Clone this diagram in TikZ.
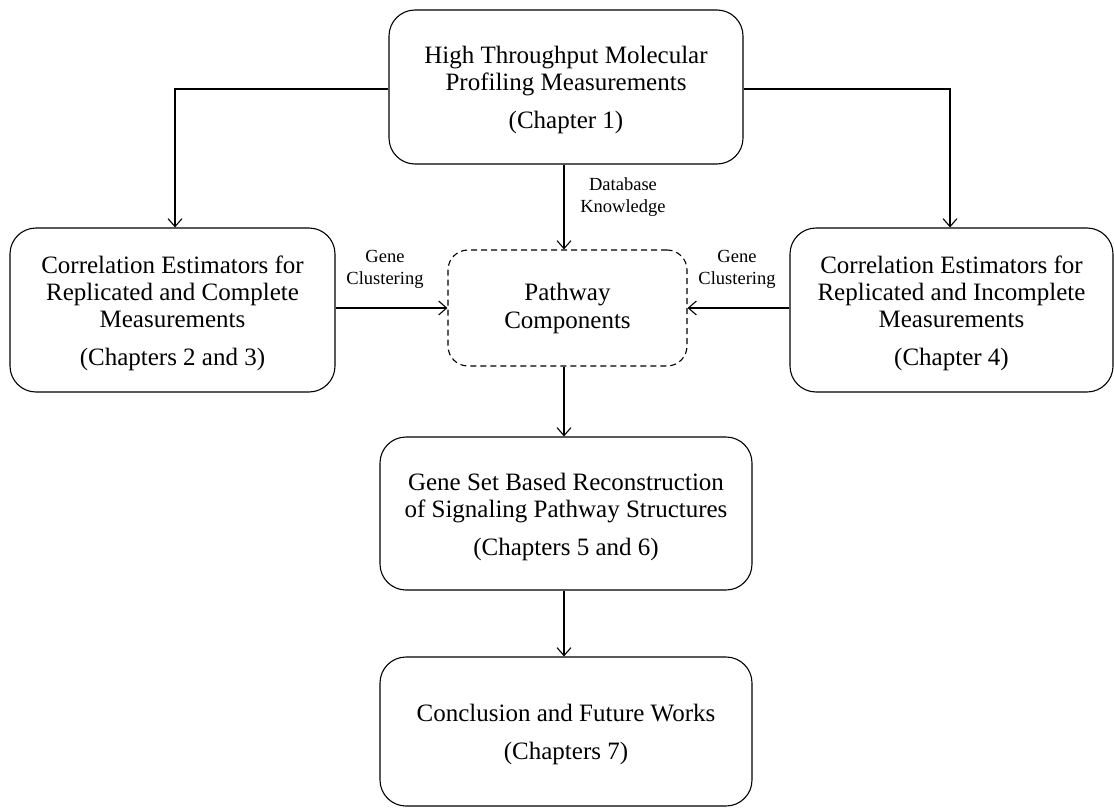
\documentclass[tikz,border=0pt]{standalone}
\usepackage{fontspec}
\setmainfont{Liberation Serif}
\usetikzlibrary{arrows.meta}

% a little extra room above the first line of a box
\newcommand{\boxtop}{\rule{0pt}{24pt}}

\tikzset{
  chapbox/.style={draw, line width=1.1pt, rounded corners=26pt, align=center, inner sep=0pt,
    font=\fontsize{25}{27}\selectfont},
  pathbox/.style={draw, line width=1.1pt, dash pattern=on 6pt off 4pt, rounded corners=20pt,
    align=center, inner sep=0pt, font=\fontsize{25}{28}\selectfont},
  flowlabel/.style={align=center, inner sep=0pt, font=\fontsize{18.5}{22}\selectfont},
  flow/.style={line width=1.1pt, -{Straight Barb[length=8pt,width=14pt]}}
}

\begin{document}
\begin{tikzpicture}[x=1pt, y=-1pt]
  \useasboundingbox (0,0) rectangle (1114,808);
  % boxes
  \node[chapbox, minimum width=354pt, minimum height=154pt] (profiling) at (566,87)
    {\boxtop High Throughput Molecular\\Profiling Measurements\\[11pt](Chapter 1)};
  \node[chapbox, minimum width=325pt, minimum height=164pt] (complete) at (172.5,310)
    {\boxtop Correlation Estimators for\\Replicated and Complete\\Measurements\\[11pt](Chapters 2 and 3)};
  \node[chapbox, minimum width=323pt, minimum height=164pt] (incomplete) at (951.5,310)
    {\boxtop Correlation Estimators for\\Replicated and Incomplete\\Measurements\\[11pt](Chapter 4)};
  \node[pathbox, minimum width=239pt, minimum height=116pt] (pathway) at (567.5,308)
    {Pathway\\Components};
  \node[chapbox, minimum width=372pt, minimum height=153pt] (geneset) at (566,513.5)
    {\boxtop Gene Set Based Reconstruction\\of Signaling Pathway Structures\\[11pt](Chapters 5 and 6)};
  \node[chapbox, minimum width=372pt, minimum height=149pt] (conclusion) at (566,731.5)
    {\boxtop Conclusion and Future Works\\[11pt](Chapters 7)};

  % labels
  \node[flowlabel] (dblabel) at (623,197) {Database\\Knowledge};
  \node[flowlabel] (leftlabel) at (385,269) {Gene\\Clustering};
  \node[flowlabel] (rightlabel) at (737,269) {Gene\\Clustering};

  % connectors
  \coordinate (leftbend) at (175,89);
  \coordinate (rightbend) at (950,89);
  \draw[flow] (profiling.west |- leftbend) -- (leftbend) -- (leftbend |- complete.north);
  \draw[flow] (profiling.east |- rightbend) -- (rightbend) -- (rightbend |- incomplete.north);
  \draw[flow] (profiling.south -| 564,0) -- (pathway.north -| 564,0);
  \draw[flow] (complete.east |- 0,308) -- (pathway.west |- 0,308);
  \draw[flow] (incomplete.west |- 0,308) -- (pathway.east |- 0,308);
  \draw[flow] (pathway.south -| 564,0) -- (geneset.north -| 564,0);
  \draw[flow] (geneset.south -| 564,0) -- (conclusion.north -| 564,0);
\end{tikzpicture}
\end{document}
